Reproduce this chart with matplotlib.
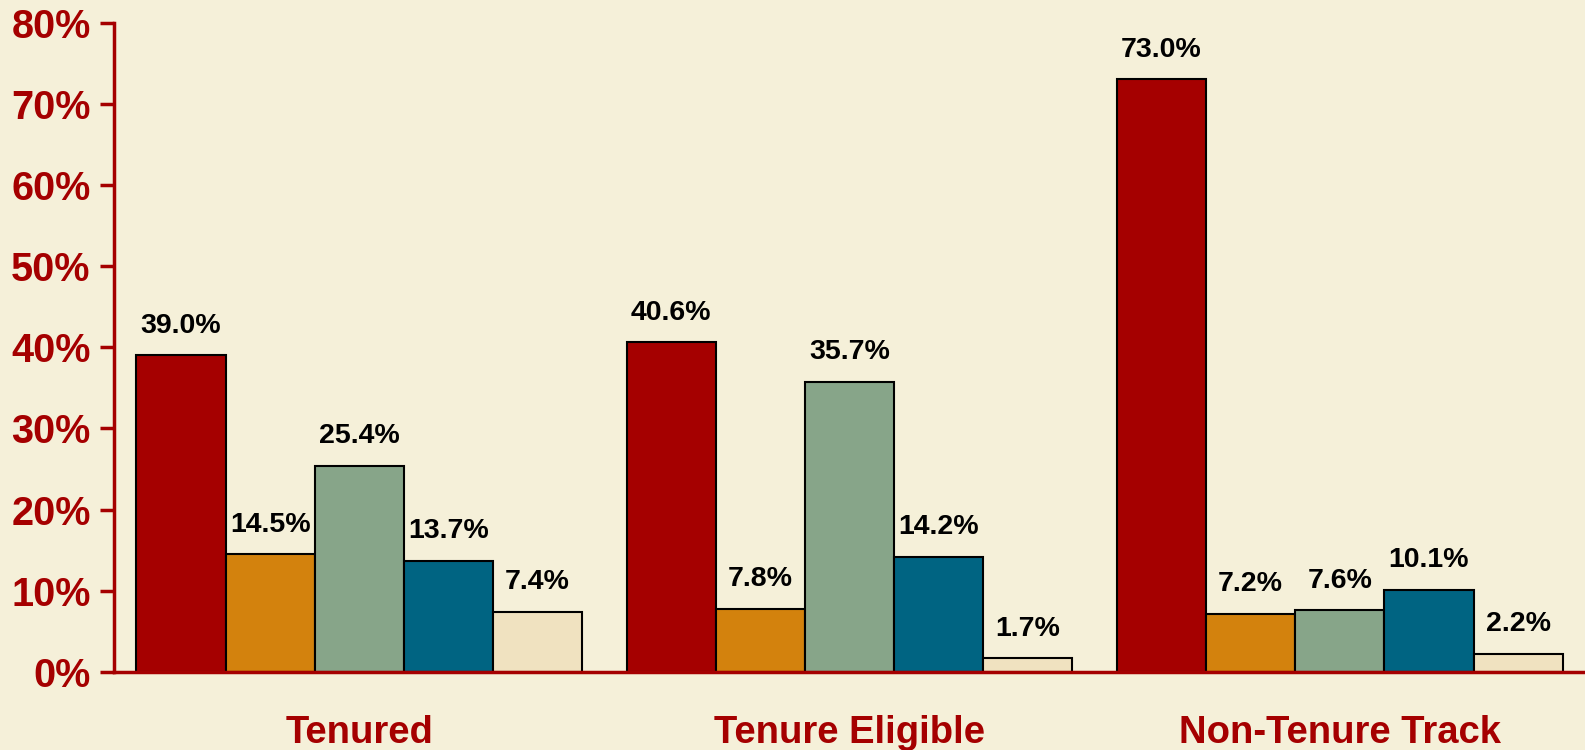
import numpy as np
from matplotlib import pyplot


categories = ["Tenured", "Tenure Eligible", "Non-Tenure Track"]
series_1 = [39.0, 40.6, 73.0]
series_2 = [14.5, 7.8, 7.2]
series_3 = [25.4, 35.7, 7.6]
series_4 = [13.7, 14.2, 10.1]
series_5 = [7.4, 1.7, 2.2]
y_ticks = [0, 10, 20, 30, 40, 50, 60, 70, 80]

colors = ["#A50000", "#D3820D", "#87A589", "#006482", "#F0E2C0"]
BG = "#F5F0D9"
DARK_RED = "#A50000"
FONT = "Liberation Sans"


def main():
    all_series = [series_1, series_2, series_3, series_4, series_5]
    fig = pyplot.figure(figsize=(15.85, 7.5), dpi=100, facecolor=BG)
    ax = fig.add_axes([0.072, 0.104, 0.928, 0.866])
    ax.set_facecolor(BG)

    x = np.arange(len(categories))
    w = 1 / 5.5
    for i, vals in enumerate(all_series):
        bars = ax.bar(x + (i - 2) * w, vals, width=w, color=colors[i],
                      edgecolor="black", linewidth=1.5, zorder=2)
        ax.bar_label(bars, labels=["%.1f%%" % v for v in vals], padding=12,
                     fontsize=20.5, fontweight="bold", family=FONT, color="black")

    ax.set_xlim(-0.5, 2.5)
    ax.set_ylim(0, 80)
    ax.set_yticks(y_ticks)
    ax.set_yticklabels(["%d%%" % t for t in y_ticks])
    ax.set_xticks(x)
    ax.set_xticklabels(categories)

    for lab in ax.get_yticklabels():
        lab.set_fontfamily(FONT)
        lab.set_fontweight("bold")
        lab.set_fontsize(28.5)
        lab.set_color(DARK_RED)
    for lab in ax.get_xticklabels():
        lab.set_fontfamily(FONT)
        lab.set_fontweight("bold")
        lab.set_fontsize(27.5)
        lab.set_color(DARK_RED)

    ax.tick_params(axis="y", length=10, width=2.5, color=DARK_RED, pad=7)
    ax.tick_params(axis="x", length=0, pad=31)
    ax.spines["top"].set_visible(False)
    ax.spines["right"].set_visible(False)
    ax.spines["left"].set_color(DARK_RED)
    ax.spines["left"].set_linewidth(2.5)
    ax.spines["bottom"].set_color(DARK_RED)
    ax.spines["bottom"].set_linewidth(2.5)
    ax.spines["bottom"].set_zorder(3)

    pyplot.savefig("out.png", facecolor=BG)


main()
